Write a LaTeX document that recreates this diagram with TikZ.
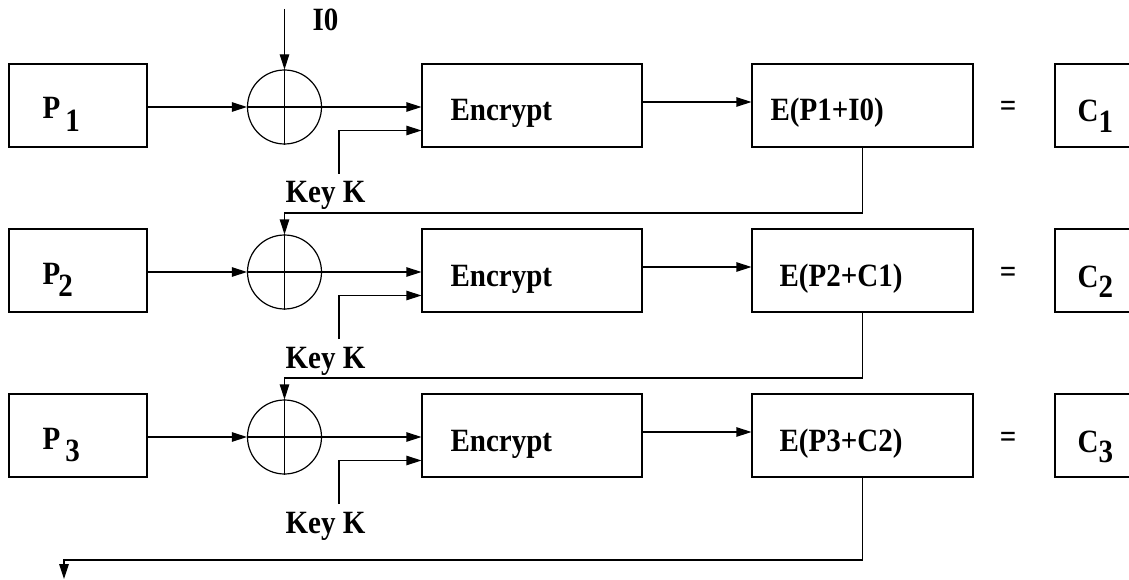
\documentclass[tikz,border=0pt]{standalone}
\usepackage{fontspec}
\usepackage{graphicx}
\setmainfont{Liberation Serif}
\usetikzlibrary{arrows.meta,calc}
\newcommand{\tallt}[1]{\scalebox{1}[1.12]{#1}}
\begin{document}
\begin{tikzpicture}[x=1pt,y=-1pt,line width=1.2pt,
  pbox/.style={draw,rectangle,minimum width=138pt,minimum height=83pt,inner sep=0pt},
  encbox/.style={draw,rectangle,minimum width=220pt,minimum height=83pt,inner sep=0pt},
  ebox/.style={draw,rectangle,minimum width=221pt,minimum height=83pt,inner sep=0pt},
  cbox/.style={draw,rectangle,minimum width=110pt,minimum height=83pt,inner sep=0pt},
  xorc/.style={draw,circle,minimum size=74pt,inner sep=0pt},
  arr/.style={-{Triangle[length=15pt,width=9.5pt]}},
  lbl/.style={font=\fontsize{29}{34}\selectfont\bfseries,inner sep=0pt}]
\useasboundingbox (0,0) rectangle (1129,580);
\clip (0,0) rectangle (1129,580);
\foreach \i/\yo/\e/\g/\ex in {1/0/{E(P1+I0)}/5pt/770,2/165/{E(P2+C1)}/-2pt/779,3/330/{E(P3+C2)}/5pt/779} {
  \node[pbox] (p\i) at (78,105.5+\yo) {};
  \node[lbl,anchor=base west] (pt\i) at (42,119+\yo) {\tallt{P\hspace{\g}\raisebox{-11pt}{\i}}};
  \node[xorc] (x\i) at (284.5,107+\yo) {};
  \draw (x\i.north) -- (x\i.south) (x\i.west) -- (x\i.east);
  \node[encbox] (enc\i) at (532,105.5+\yo) {};
  \node[lbl,anchor=base west] (et\i) at (450,121+\yo) {\tallt{Encrypt}};
  \node[ebox] (e\i) at (862.5,105.5+\yo) {};
  \node[lbl,anchor=base west] (ot\i) at (\ex,121+\yo) {\tallt{\e}};
  \node[lbl,anchor=base] (eq\i) at (1008,117+\yo) {\tallt{=}};
  \node[cbox] (c\i) at (1110,105.5+\yo) {};
  \node[lbl,anchor=base west] (ct\i) at (1077,122+\yo) {\tallt{C\raisebox{-9pt}{\i}}};
  \coordinate (k\i) at (339,174+\yo);
  \node[lbl,anchor=base west] (kt\i) at (285,203+\yo) {\tallt{Key K}};
  \draw[arr] (p\i.east |- x\i.west) -- (x\i.west);
  \draw[arr] (x\i.east) -- (x\i.east -| enc\i.west);
  \draw[arr] (k\i) |- ([yshift=-25pt]enc\i.west);
  \draw[arr] ([yshift=3.5pt]enc\i.east) -- ([yshift=3.5pt]e\i.west);
}
\coordinate (i0) at (284.5,9);
\draw[arr] (i0) -- (x1.north);
\node[lbl,anchor=base west] (i0t) at (312,31) {\tallt{I0}};
\coordinate (f1) at (284.5,213);
\draw[arr] (e1.south) |- (f1) -- (x2.north);
\coordinate (f2) at (284.5,378);
\draw[arr] (e2.south) |- (f2) -- (x3.north);
\coordinate (f3) at (64,560);
\coordinate (out) at (64,579);
\draw[arr] (e3.south) |- (f3) -- (out);
\end{tikzpicture}
\end{document}
